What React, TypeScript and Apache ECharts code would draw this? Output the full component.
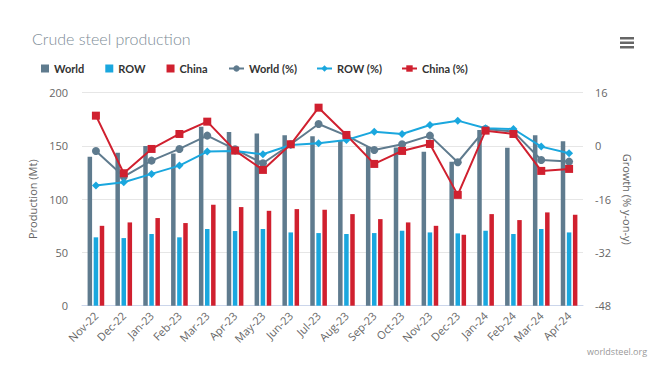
import React, { useEffect, useRef } from "react";
import * as echarts from "echarts";

const categories = ["Nov-22","Dec-22","Jan-23","Feb-23","Mar-23","Apr-23","May-23","Jun-23","Jul-23","Aug-23","Sep-23","Oct-23","Nov-23","Dec-23","Jan-24","Feb-24","Mar-24","Apr-24"];
const worldProd = [139.8, 143.5, 150, 143, 168, 163.2, 161.7, 160.1, 159.2, 155, 149.2, 148.6, 144.5, 135.1, 165, 148.2, 160.1, 154.5];
const rowProd = [64.2, 63.5, 67.3, 64.2, 72, 70.1, 72, 68.8, 68.2, 67.3, 68.2, 70.4, 68.8, 67.9, 70.4, 67.3, 72, 68.8];
const chinaProd = [75, 78.2, 82.3, 77.6, 94.8, 92.6, 89.1, 90.7, 90.1, 86, 81.3, 78.2, 75, 66.6, 86, 80.4, 87.6, 85.4];
const worldGrowth = [-1.5, -9.2, -4.4, -0.9, 3.1, -1.0, -5.2, 0.5, 6.6, 3.1, -1.2, 0.5, 3.1, -4.9, 5.1, 4.3, -4.2, -4.7];
const rowGrowth = [-11.9, -10.9, -8.4, -5.9, -1.7, -1.5, -2.5, 0.3, 0.8, 1.8, 4.3, 3.6, 6.3, 7.6, 5.3, 5.1, -0.2, -2.2];
const chinaGrowth = [9.1, -8.2, -0.9, 3.6, 7.3, -1.4, -7.2, 0.5, 11.5, 3.3, -5.4, -1.5, 0.6, -14.7, 4.6, 3.6, -7.5, -6.9];
const leftTicks = { min: 0, max: 200, interval: 50 };
const rightTicks = { min: -48, max: 16, interval: 16 };

const C_WORLD = "#5f7b8e";
const C_ROW = "#1aa7de";
const C_CHINA = "#d0202f";

export default function App() {
  const ref = useRef<HTMLDivElement>(null);
  useEffect(() => {
    if (!ref.current) return;
    const chart = echarts.init(ref.current, undefined, { renderer: "svg" });
    const axisLabel = { color: "#666666", fontSize: 11, fontFamily: "Open Sans" };
    const nameStyle = { color: "#666666", fontSize: 11, fontFamily: "Open Sans" };
    const bar = (name: string, data: number[], color: string) => ({
      name, type: "bar", data, yAxisIndex: 0, barWidth: 4.5, barGap: "35%",
      itemStyle: { color }, emphasis: { disabled: true },
    });
    const line = (name: string, data: number[], color: string, symbol: string, size: number) => ({
      name, type: "line", data, yAxisIndex: 1, symbol, symbolSize: size,
      lineStyle: { color, width: 2 }, itemStyle: { color }, emphasis: { disabled: true },
    });
    const legendText = { fontFamily: "Lato", fontSize: 11, fontWeight: "bold", color: "#333" };
    chart.setOption({
      animation: false,
      title: {
        text: "Crude steel production", left: 27, top: 25,
        textStyle: { fontFamily: "Lato", fontSize: 16, fontWeight: 300, color: "#7d8c96" },
      },
      legend: [
        {
          left: 36, top: 58, itemWidth: 8, itemHeight: 8, itemGap: 21,
          icon: "rect", textStyle: legendText,
          data: ["World", "ROW", "China"],
        },
        {
          left: 223, top: 58, itemWidth: 15, itemHeight: 8, itemGap: 19,
          textStyle: legendText,
          data: ["World (%)", "ROW (%)", "China (%)"],
        },
      ],
      grid: { left: 82, right: 76, top: 92.7, bottom: 60.3, containLabel: false },
      xAxis: {
        type: "category", data: categories,
        axisLine: { lineStyle: { color: "#ccd6eb" } },
        axisTick: { show: false },
        axisLabel: { ...axisLabel, rotate: 45, margin: 8, interval: 0 },
      },
      yAxis: [
        {
          type: "value", ...leftTicks, position: "left",
          name: "Production (Mt)", nameLocation: "middle", nameRotate: 90, nameGap: 40,
          nameTextStyle: nameStyle,
          axisLabel: { ...axisLabel, margin: 14 },
          splitLine: { lineStyle: { color: "#e6e6e6" } },
          axisLine: { show: false, lineStyle: { color: "#666666" } }, axisTick: { show: false },
        },
        {
          type: "value", ...rightTicks, position: "right",
          name: "Growth (% y-on-y)", nameLocation: "middle", nameRotate: -90, nameGap: 36,
          nameTextStyle: nameStyle,
          axisLabel: { ...axisLabel, margin: 12 },
          splitLine: { show: false },
          axisLine: { show: false, lineStyle: { color: "#666666" } }, axisTick: { show: false },
        },
      ],
      series: [
        bar("World", worldProd, C_WORLD),
        bar("ROW", rowProd, C_ROW),
        bar("China", chinaProd, C_CHINA),
        line("World (%)", worldGrowth, C_WORLD, "circle", 8),
        line("ROW (%)", rowGrowth, C_ROW, "diamond", 8),
        line("China (%)", chinaGrowth, C_CHINA, "rect", 8),
      ],
      graphic: [
        { type: "rect", left: 620, top: 37, shape: { width: 14, height: 2.5 }, style: { fill: "#666" } },
        { type: "rect", left: 620, top: 41.5, shape: { width: 14, height: 2.5 }, style: { fill: "#666" } },
        { type: "rect", left: 620, top: 46, shape: { width: 14, height: 2.5 }, style: { fill: "#666" } },
        {
          type: "text", left: 587, top: 347,
          style: { text: "worldsteel.org", fill: "#999", fontSize: 9, fontFamily: "Open Sans" },
        },
      ],
    });
    return () => chart.dispose();
  }, []);
  return <div ref={ref} style={{ position: "absolute", left: 0, top: 0, width: 659, height: 366 }} />;
}
